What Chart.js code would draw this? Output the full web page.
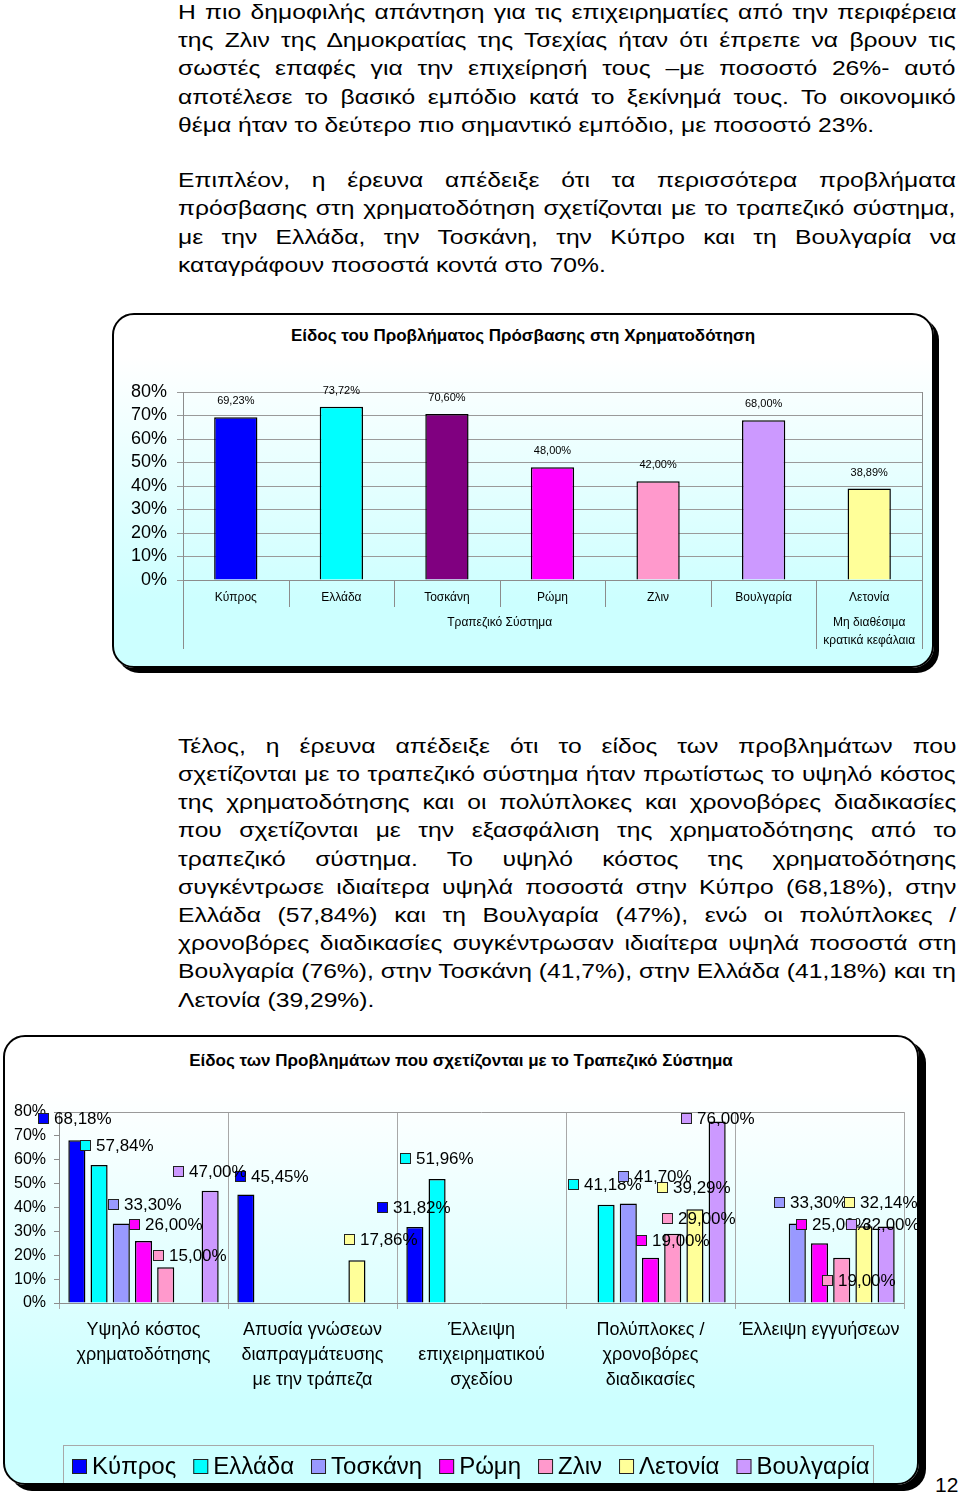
<!DOCTYPE html>
<html><head><meta charset="utf-8">
<script src="https://cdn.jsdelivr.net/npm/chart.js@4/dist/chart.umd.min.js"></script>
<style>
html,body{margin:0;padding:0;background:#fff;}
body{width:960px;height:1494px;position:relative;overflow:hidden;font-family:"Liberation Sans",Arial,sans-serif;color:#000;}
.line{position:absolute;left:178px;white-space:nowrap;font-size:21px;line-height:28px;transform:scaleX(1.174);transform-origin:0 0;}
.frame{position:absolute;border:2px solid #000;border-radius:22px;background:linear-gradient(#ffffff 12%, #ccffff 82%);overflow:hidden;}
.ttl{position:absolute;left:0;right:0;text-align:center;font-weight:bold;white-space:nowrap;}
canvas{position:absolute;left:0;top:0;}
#pg{position:absolute;left:935px;top:1473px;font-size:21px;line-height:24px;}
</style></head><body>
<div id="text"></div>

<div class="frame" id="f1" style="left:112px;top:313px;width:818px;height:351px;box-shadow:5px 5px 0 #000;">
  <div class="ttl" style="top:11px;font-size:17px;line-height:20px;">Είδος του Προβλήματος Πρόσβασης στη Χρηματοδότηση</div>
  <div style="position:absolute;left:0;top:0;width:818px;height:351px;"><canvas id="c1"></canvas></div>
</div>

<div class="frame" id="f2" style="left:3px;top:1035px;width:912px;height:446px;box-shadow:7px 6px 0 #000;">
  <div class="ttl" style="top:14px;font-size:17px;line-height:20px;">Είδος των Προβλημάτων που σχετίζονται με το Τραπεζικό Σύστημα</div>
  <div style="position:absolute;left:0;top:0;width:912px;height:446px;"><canvas id="c2"></canvas></div>
</div>
<div id="pg">12</div>

<script>
// ---------- text ----------
const para1 = [
 "Η πιο δημοφιλής απάντηση για τις επιχειρηματίες από την περιφέρεια",
 "της Ζλιν της Δημοκρατίας της Τσεχίας ήταν ότι έπρεπε να βρουν τις",
 "σωστές επαφές για την επιχείρησή τους –με ποσοστό 26%- αυτό",
 "αποτέλεσε το βασικό εμπόδιο κατά το ξεκίνημά τους. Το οικονομικό",
 "θέμα ήταν το δεύτερο πιο σημαντικό εμπόδιο, με ποσοστό 23%."
];
const para2 = [
 "Επιπλέον, η έρευνα απέδειξε ότι τα περισσότερα προβλήματα",
 "πρόσβασης στη χρηματοδότηση σχετίζονται με το τραπεζικό σύστημα,",
 "με την Ελλάδα, την Τοσκάνη, την Κύπρο και τη Βουλγαρία να",
 "καταγράφουν ποσοστά κοντά στο 70%."
];
const para3 = [
 "Τέλος, η έρευνα απέδειξε ότι το είδος των προβλημάτων που",
 "σχετίζονται με το τραπεζικό σύστημα ήταν πρωτίστως το υψηλό κόστος",
 "της χρηματοδότησης και οι πολύπλοκες και χρονοβόρες διαδικασίες",
 "που σχετίζονται με την εξασφάλιση της χρηματοδότησης από το",
 "τραπεζικό σύστημα. Το υψηλό κόστος της χρηματοδότησης",
 "συγκέντρωσε ιδιαίτερα υψηλά ποσοστά στην Κύπρο (68,18%), στην",
 "Ελλάδα (57,84%) και τη Βουλγαρία (47%), ενώ οι πολύπλοκες /",
 "χρονοβόρες διαδικασίες συγκέντρωσαν ιδιαίτερα υψηλά ποσοστά στη",
 "Βουλγαρία (76%), στην Τοσκάνη (41,7%), στην Ελλάδα (41,18%) και τη",
 "Λετονία (39,29%)."
];

// ---------- chart 1 data ----------
const chart1Categories = ['Κύπρος','Ελλάδα','Τοσκάνη','Ρώμη','Ζλιν','Βουλγαρία','Λετονία'];
const chart1Values = [69.23, 73.72, 70.60, 48.00, 42.00, 68.00, 38.89];
const chart1Colors = ['#0000FF','#00FFFF','#800080','#FF00FF','#FF99CC','#CC99FF','#FFFF99'];
const chart1GroupLabels = [['Τραπεζικό Σύστημα'], ['Μη διαθέσιμα','κρατικά κεφάλαια']];
const chart1GroupSizes = [6, 1];
const yTickValues = [0,10,20,30,40,50,60,70,80];

// ---------- chart 2 data ----------
const chart2Categories = [
 ['Υψηλό κόστος','χρηματοδότησης'],
 ['Απυσία γνώσεων','διαπραγμάτευσης','με την τράπεζα'],
 ['Έλλειψη','επιχειρηματικού','σχεδίου'],
 ['Πολύπλοκες /','χρονοβόρες','διαδικασίες'],
 ['Έλλειψη εγγυήσεων']
];
const chart2Series = ['Κύπρος','Ελλάδα','Τοσκάνη','Ρώμη','Ζλιν','Λετονία','Βουλγαρία'];
const cyprus   = [68.18, 45.45, 31.82, null,  null];
const greece   = [57.84, null,  51.96, 41.18, null];
const tuscany  = [33.30, null,  null,  41.70, 33.30];
const rome     = [26.00, null,  null,  19.00, 25.00];
const zlin     = [15.00, null,  null,  29.00, 19.00];
const latvia   = [null,  17.86, null,  39.29, 32.14];
const bulgaria = [47.00, null,  null,  76.00, 32.00];
const chart2Values = [cyprus, greece, tuscany, rome, zlin, latvia, bulgaria];
const chart2Colors = ['#0000FF','#00FFFF','#9999FF','#FF00FF','#FF99CC','#FFFF99','#CC99FF'];
// label nudges (style only): [dx, dy] relative to a label centred above its bar
const chart2LabelNudge = [
 [[-2,-2],[26,2],[-1,0],null,null],
 [[18,0],null,[0,-1],[-1,-1],null],
 [[24,1],null,null,[27,-7],[14,-1]],
 [[22,3],null,null,[22,2],[13,1]],
 [[24,8],null,null,[26,4],[17,42]],
 [null,[24,-1],null,[-1,-2],[17,-4]],
 [[0,0],null,null,[1,16],[-3,17]]
];

const FONT = '"Liberation Sans", Arial, sans-serif';
const fmt = v => v.toFixed(2).replace('.', ',') + '%';

// ---------- text layout ----------
const SX = 1.174, TEXTW = 778;
function placePara(lines, baseline0, step){
  const host = document.getElementById('text');
  lines.forEach((t,i)=>{
    const d = document.createElement('div');
    d.className = 'line';
    d.textContent = t;
    d.style.top = (baseline0 + step*i - 21.3) + 'px';
    host.appendChild(d);
    if(i !== lines.length-1){
      const w = d.offsetWidth;
      const spaces = (t.match(/ /g)||[]).length;
      if(spaces) d.style.wordSpacing = ((TEXTW/SX - w)/spaces) + 'px';
    }
  });
}
placePara(para1, 19.3, 28.2);
placePara(para2, 187.5, 28.2);
placePara(para3, 753, 28.2);

function hline(ctx,x1,y1,x2,y2){ctx.beginPath();ctx.moveTo(x1,y1);ctx.lineTo(x2,y2);ctx.stroke();}

// ---------- chart 1 ----------
const c1Deco = {
  id:'c1deco',
  afterDatasetsDraw(chart){
    const {ctx, chartArea:a, scales:{x}} = chart;
    ctx.save();
    ctx.strokeStyle = '#8c8c8c'; ctx.lineWidth = 1;
    hline(ctx, Math.round(a.right)+0.5, a.top, Math.round(a.right)+0.5, a.bottom);
    hline(ctx, a.left, Math.round(a.bottom)+0.5, a.right, Math.round(a.bottom)+0.5);
    ctx.fillStyle = '#000'; ctx.textAlign = 'center'; ctx.textBaseline = 'middle';
    ctx.font = '11px ' + FONT;
    chart.getDatasetMeta(0).data.forEach((bar,i)=>{
      ctx.fillText(fmt(chart1Values[i]), bar.x, bar.y - 16);
    });
    ctx.font = '12px ' + FONT;
    chart1Categories.forEach((c,i)=> ctx.fillText(c, x.getPixelForValue(i), a.bottom + 18));
    const n = chart1Categories.length;
    const half = (x.getPixelForValue(1) - x.getPixelForValue(0)) / 2;
    const bounds = [0]; let acc = 0;
    chart1GroupSizes.forEach(s=>{acc+=s; bounds.push(acc);});
    ctx.strokeStyle = '#8c8c8c';
    for(let i=0;i<=n;i++){
      const px = Math.round(i<n ? x.getPixelForValue(i)-half : x.getPixelForValue(n-1)+half) + 0.5;
      const isGroup = bounds.includes(i);
      hline(ctx, px, a.bottom, px, a.bottom + (isGroup ? 69 : 27));
    }
    let start = 0;
    chart1GroupSizes.forEach((s,g)=>{
      const l = x.getPixelForValue(start) - half, r = x.getPixelForValue(start+s-1) + half;
      chart1GroupLabels[g].forEach((t,k)=> ctx.fillText(t, (l+r)/2, a.bottom + 43 + k*18));
      start += s;
    });
    ctx.restore();
  }
};

new Chart(document.getElementById('c1'), {
  type:'bar',
  data:{ labels: chart1Categories,
    datasets:[{ data: chart1Values, backgroundColor: chart1Colors, borderColor:'#000', borderWidth:1.5,
      barPercentage:0.41, categoryPercentage:1 }]},
  options:{
    responsive:true, maintainAspectRatio:false, animation:false,
    layout:{padding:{top:77, right:10, left:0, bottom:0}},
    plugins:{legend:{display:false}, tooltip:{enabled:false}},
    scales:{
      x:{ ticks:{display:false}, grid:{display:false}, border:{display:false},
          afterFit: s=>{ s.height = 86; } },
      y:{ min:0, max:80, afterBuildTicks: s=>{ s.ticks = yTickValues.map(v=>({value:v})); },
          ticks:{ callback: v=> v+'%', font:{family:FONT, size:18}, color:'#000', padding:10, autoSkip:false },
          grid:{ color:'#9a9a9a', tickLength:6, lineWidth:1 },
          border:{ color:'#8c8c8c' },
          afterFit: s=>{ s.width = 69; } }
    }
  },
  plugins:[c1Deco]
});

// ---------- chart 2 ----------
const c2Deco = {
  id:'c2deco',
  afterDatasetsDraw(chart){
    const {ctx, chartArea:a, scales:{x}} = chart;
    ctx.save();
    ctx.strokeStyle = '#9a9a9a'; ctx.lineWidth = 1;
    hline(ctx, a.left, Math.round(a.top)+0.5, a.right, Math.round(a.top)+0.5);
    ctx.strokeStyle = '#8c8c8c';
    hline(ctx, a.left, Math.round(a.bottom)+0.5, a.right, Math.round(a.bottom)+0.5);
    ctx.font = '17px ' + FONT; ctx.textBaseline = 'middle'; ctx.textAlign = 'left';
    chart.data.datasets.forEach((ds,di)=>{
      const meta = chart.getDatasetMeta(di);
      meta.data.forEach((bar,i)=>{
        const v = ds.data[i]; if(v==null) return;
        const t = fmt(v);
        const nd = (chart2LabelNudge[di] && chart2LabelNudge[di][i]) || [0,0];
        const w = 11 + 5 + ctx.measureText(t).width;
        const x0 = Math.round(bar.x - w/2 + nd[0]), y = Math.round(bar.y - 20 + nd[1]);
        ctx.fillStyle = ds.backgroundColor; ctx.fillRect(x0, y-5, 11, 11);
        ctx.strokeStyle = '#222'; ctx.lineWidth = 1; ctx.strokeRect(x0+0.5, y-4.5, 10, 10);
        ctx.fillStyle = '#000'; ctx.fillText(t, x0 + 16, y + 1);
      });
    });
    ctx.font = '18px ' + FONT; ctx.textAlign = 'center';
    chart2Categories.forEach((lines,i)=>{
      lines.forEach((t,k)=> ctx.fillText(t, x.getPixelForValue(i), a.bottom + 27 + k*25));
    });
    // legend
    const lx = 58, ly = 408, lw = 810, lh = 50;
    ctx.strokeStyle = '#a8a8a8';
    ctx.strokeRect(lx+0.5, ly+0.5, lw, lh);
    ctx.font = '24px ' + FONT; ctx.textAlign = 'left';
    let px = lx + 9;
    const cy = ly + 21;
    chart2Series.forEach((s,i)=>{
      ctx.fillStyle = chart2Colors[i]; ctx.fillRect(px, cy-7, 15, 15);
      ctx.strokeStyle = '#222'; ctx.strokeRect(px+0.5, cy-6.5, 14, 14);
      ctx.fillStyle = '#000'; ctx.fillText(s, px + 20, cy + 1);
      px += 20 + ctx.measureText(s).width + 17;
    });
    ctx.restore();
  }
};

new Chart(document.getElementById('c2'), {
  type:'bar',
  data:{ labels: chart2Categories.map(c=>c.join(' ')),
    datasets: chart2Series.map((s,i)=>({ label:s, data: chart2Values[i], backgroundColor: chart2Colors[i],
      borderColor:'#000', borderWidth:1.5, barPercentage:0.77, categoryPercentage:0.92 }))},
  options:{
    responsive:true, maintainAspectRatio:false, animation:false,
    layout:{padding:{top:75, right:13, left:0, bottom:0}},
    plugins:{legend:{display:false}, tooltip:{enabled:false}},
    scales:{
      x:{ ticks:{display:false}, grid:{ color:'#a8a8a8', offset:true, tickLength:6, drawOnChartArea:true },
          border:{display:false},
          afterFit: s=>{ s.height = 180; } },
      y:{ min:0, max:80, afterBuildTicks: s=>{ s.ticks = yTickValues.map(v=>({value:v})); },
          ticks:{ callback: v=> v+'%', font:{family:FONT, size:16}, color:'#000', padding:8, autoSkip:false },
          grid:{ drawOnChartArea:false, color:'#8c8c8c', tickLength:5 },
          border:{ color:'#8c8c8c' },
          afterFit: s=>{ s.width = 54; } }
    }
  },
  plugins:[c2Deco]
});
</script>
</body></html>
